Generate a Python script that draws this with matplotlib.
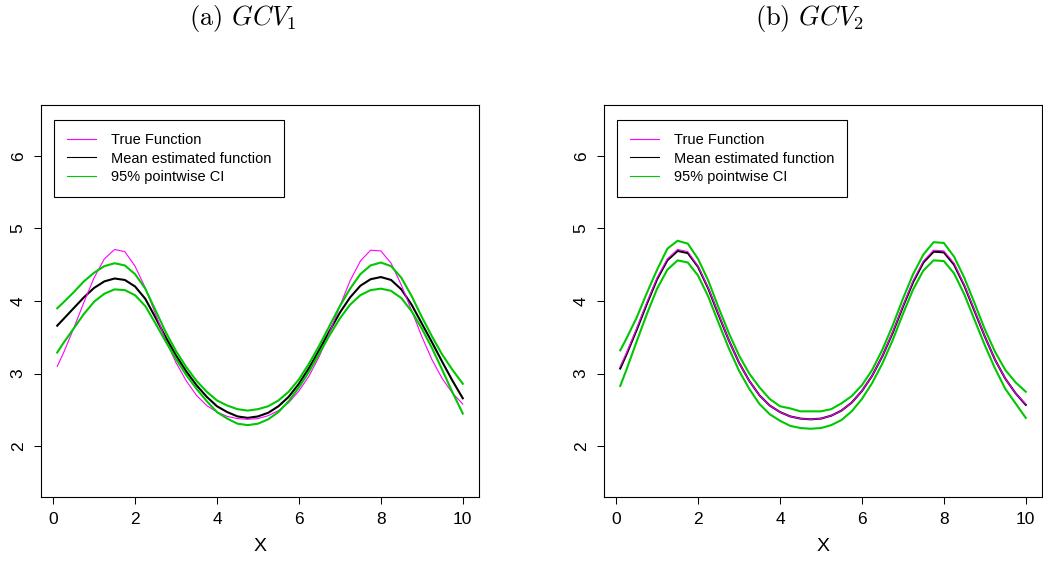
import matplotlib
matplotlib.use('Agg')
import matplotlib.pyplot as plt
from matplotlib.lines import Line2D

plt.rcParams['font.family'] = ['Liberation Sans', 'DejaVu Sans']
plt.rcParams['mathtext.fontset'] = 'cm'

# grid of x values
x = [0.1, 0.25, 0.5, 0.75, 1.0, 1.25, 1.5, 1.75, 2.0, 2.25,
     2.5, 2.75, 3.0, 3.25, 3.5, 3.75, 4.0, 4.25, 4.5, 4.75,
     5.0, 5.25, 5.5, 5.75, 6.0, 6.25, 6.5, 6.75, 7.0, 7.25,
     7.5, 7.75, 8.0, 8.25, 8.5, 8.75, 9.0, 9.25, 9.5, 9.75, 10.0]

# true function (same in both panels)
true_f = [3.10, 3.28, 3.62, 3.98, 4.32, 4.58, 4.71, 4.68, 4.48, 4.18,
          3.82, 3.46, 3.15, 2.90, 2.70, 2.56, 2.47, 2.41, 2.38, 2.37,
          2.38, 2.42, 2.49, 2.60, 2.76, 2.97, 3.24, 3.57, 3.93, 4.28,
          4.55, 4.70, 4.69, 4.52, 4.22, 3.87, 3.51, 3.19, 2.93, 2.73, 2.58]

# (a) GCV1
mean_a = [3.66, 3.75, 3.90, 4.05, 4.18, 4.27, 4.31, 4.29, 4.20, 4.03,
          3.77, 3.50, 3.25, 3.03, 2.84, 2.68, 2.55, 2.47, 2.41, 2.39,
          2.41, 2.46, 2.55, 2.68, 2.86, 3.08, 3.33, 3.59, 3.84, 4.05,
          4.21, 4.30, 4.33, 4.29, 4.16, 3.95, 3.69, 3.43, 3.16, 2.90, 2.66]
upper_a = [3.90, 3.98, 4.12, 4.27, 4.39, 4.48, 4.52, 4.49, 4.37, 4.17,
           3.87, 3.57, 3.31, 3.09, 2.90, 2.75, 2.63, 2.56, 2.51, 2.49,
           2.51, 2.55, 2.63, 2.75, 2.92, 3.14, 3.39, 3.66, 3.93, 4.17,
           4.37, 4.49, 4.53, 4.48, 4.32, 4.07, 3.78, 3.51, 3.26, 3.05, 2.86]
lower_a = [3.29, 3.42, 3.62, 3.82, 3.99, 4.10, 4.16, 4.15, 4.08, 3.93,
           3.69, 3.44, 3.20, 2.98, 2.79, 2.62, 2.47, 2.38, 2.31, 2.29,
           2.31, 2.37, 2.47, 2.62, 2.81, 3.03, 3.28, 3.53, 3.76, 3.95,
           4.08, 4.15, 4.17, 4.14, 4.04, 3.86, 3.62, 3.35, 3.05, 2.74, 2.45]

# (b) GCV2
mean_b = [3.07, 3.26, 3.60, 3.96, 4.30, 4.56, 4.69, 4.66, 4.47, 4.17,
          3.81, 3.46, 3.15, 2.90, 2.70, 2.56, 2.47, 2.41, 2.38, 2.37,
          2.38, 2.42, 2.49, 2.60, 2.76, 2.97, 3.24, 3.56, 3.92, 4.26,
          4.53, 4.68, 4.67, 4.50, 4.21, 3.86, 3.51, 3.19, 2.93, 2.73, 2.57]
upper_b = [3.32, 3.48, 3.77, 4.11, 4.43, 4.72, 4.83, 4.79, 4.58, 4.28,
           3.91, 3.56, 3.25, 3.00, 2.81, 2.65, 2.55, 2.52, 2.48, 2.48,
           2.48, 2.51, 2.59, 2.69, 2.84, 3.05, 3.33, 3.66, 4.03, 4.37,
           4.64, 4.81, 4.80, 4.61, 4.32, 3.97, 3.61, 3.30, 3.05, 2.88, 2.75]
lower_b = [2.83, 3.05, 3.44, 3.82, 4.17, 4.43, 4.56, 4.53, 4.35, 4.06,
           3.70, 3.35, 3.04, 2.79, 2.58, 2.44, 2.35, 2.28, 2.25, 2.24,
           2.25, 2.29, 2.36, 2.48, 2.65, 2.87, 3.14, 3.46, 3.82, 4.16,
           4.42, 4.56, 4.55, 4.38, 4.09, 3.74, 3.39, 3.07, 2.79, 2.59, 2.39]

titles = [r'(a) $GCV_1$', r'(b) $GCV_2$']
legend_labels = ['True Function', 'Mean estimated function', '95% pointwise CI']

MAGENTA = '#FF00FF'
GREEN = '#00C800'

fig = plt.figure(figsize=(10.43, 5.61), dpi=100)
axes = [fig.add_axes([41 / 1043, 64 / 561, 438 / 1043, 392 / 561]),
        fig.add_axes([604 / 1043, 64 / 561, 438 / 1043, 392 / 561])]

panels = [(mean_a, upper_a, lower_a), (mean_b, upper_b, lower_b)]
for ax, (m, up, lo) in zip(axes, panels):
    ax.plot(x, m, color='black', lw=1.5)
    ax.plot(x, true_f, color=MAGENTA, lw=0.8)
    ax.plot(x, up, color=GREEN, lw=1.5)
    ax.plot(x, lo, color=GREEN, lw=1.5)

    ax.set_xlim(-0.296, 10.396)
    ax.set_ylim(1.3, 6.7)
    ax.set_xticks([0, 2, 4, 6, 8, 10])
    ax.set_yticks([2, 3, 4, 5, 6])
    ax.tick_params(direction='out', length=5, width=0.75, labelsize=12.5, pad=6)
    for lab in ax.get_yticklabels():
        lab.set_rotation(90)
        lab.set_va('center')
    for sp in ax.spines.values():
        sp.set_linewidth(0.8)
    ax.set_xlabel('X', fontsize=14, labelpad=8)

    handles = [Line2D([], [], color=MAGENTA, lw=0.8),
               Line2D([], [], color='black', lw=0.8),
               Line2D([], [], color=GREEN, lw=0.8)]
    leg = ax.legend(handles, legend_labels, loc='upper left',
                    bbox_to_anchor=(13 / 438, 1 - 15 / 392), borderaxespad=0,
                    fontsize=10.5, handlelength=2.0, handletextpad=1.0,
                    labelspacing=0.3, borderpad=0.9, fancybox=False,
                    framealpha=1, edgecolor='black')
    leg.get_frame().set_linewidth(0.8)

fig.text(243 / 1043, 1 - 19 / 561, titles[0], family='cmr10', fontsize=19,
         ha='center', va='center')
fig.text(810 / 1043, 1 - 19 / 561, titles[1], family='cmr10', fontsize=19,
         ha='center', va='center')

fig.savefig('out.png', dpi=100)
